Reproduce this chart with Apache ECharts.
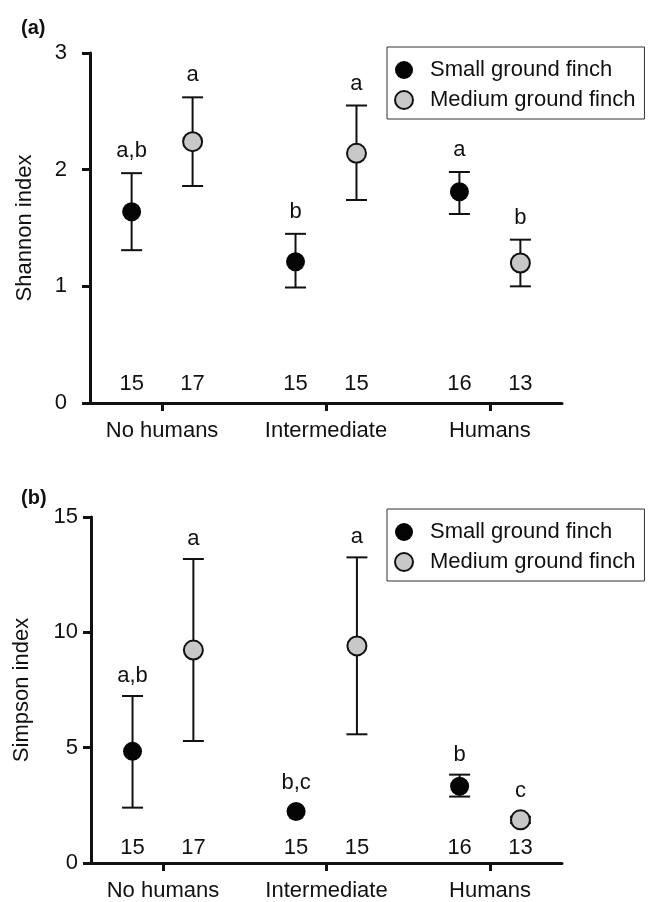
<!DOCTYPE html>
<html>
<head>
<meta charset="utf-8">
<script src="https://cdn.jsdelivr.net/npm/echarts@6/dist/echarts.min.js"></script>
<style>
  html, body { margin: 0; padding: 0; background: #fff; }
  #chart { width: 648px; height: 902px; }
</style>
</head>
<body>
<div id="chart"></div>
<script>
// groups along the x axis
const groups = ['No humans', 'Intermediate', 'Humans']
const seriesNames = ['Small ground finch', 'Medium ground finch']

// (a) Shannon index: mean, lower and upper end of error bar
const shannonSmall = [1.64, 1.21, 1.81]
const shannonSmallLow = [1.31, 0.99, 1.62]
const shannonSmallHigh = [1.97, 1.45, 1.98]
const shannonMedium = [2.24, 2.14, 1.20]
const shannonMediumLow = [1.86, 1.74, 1.00]
const shannonMediumHigh = [2.62, 2.55, 1.40]
const shannonSmallLetters = ['a,b', 'b', 'a']
const shannonMediumLetters = ['a', 'a', 'b']

// (b) Simpson index
const simpsonSmall = [4.84, 2.23, 3.33]
const simpsonSmallLow = [2.40, 2.23, 2.88]
const simpsonSmallHigh = [7.24, 2.23, 3.83]
const simpsonMedium = [9.23, 9.41, 1.87]
const simpsonMediumLow = [5.29, 5.58, 1.74]
const simpsonMediumHigh = [13.18, 13.25, 2.00]
const simpsonSmallLetters = ['a,b', 'b,c', 'b']
const simpsonMediumLetters = ['a', 'a', 'c']

// sample sizes
const sampleSmall = [15, 15, 16]
const sampleMedium = [17, 15, 13]

const FONT = 'Liberation Sans, Arial, Helvetica, sans-serif'
const DODGE = 0.186 // half distance between the two species in a group

var myChart = echarts.init(document.getElementById('chart'))

// error bars with the letter above them
function errorBars(axisIndex, means, lows, highs, letters, offset, letterGap) {
  const data = means.map((m, i) => [i + offset, m, lows[i], highs[i]])
  return {
    type: 'custom',
    xAxisIndex: axisIndex,
    yAxisIndex: axisIndex,
    z: 1,
    data: data,
    renderItem: function(params, api) {
      const x = api.value(0)
      const mid = api.coord([x, api.value(1)])
      const lo = api.coord([x, api.value(2)])
      const hi = api.coord([x, api.value(3)])
      const style = { stroke: '#111', lineWidth: 2 }
      const top = Math.min(hi[1], mid[1] - 9)
      const children = []
      if (lo[1] - hi[1] > 1) {
        children.push(
          { type: 'line', shape: { x1: lo[0], y1: lo[1], x2: hi[0], y2: hi[1] }, style: style },
          { type: 'line', shape: { x1: hi[0] - 10.5, y1: hi[1], x2: hi[0] + 10.5, y2: hi[1] }, style: style },
          { type: 'line', shape: { x1: lo[0] - 10.5, y1: lo[1], x2: lo[0] + 10.5, y2: lo[1] }, style: style }
        )
      }
      children.push({
        type: 'text',
        x: mid[0],
        y: top - letterGap,
        style: {
          text: letters[params.dataIndex],
          fill: '#111',
          font: '22px ' + FONT,
          textAlign: 'center',
          textVerticalAlign: 'bottom'
        }
      })
      return { type: 'group', children: children }
    }
  }
}

// sample size text just above the x axis
function sampleLabels(axisIndex, counts, offset, yVal) {
  return {
    type: 'custom',
    xAxisIndex: axisIndex,
    yAxisIndex: axisIndex,
    data: counts.map((n, i) => [i + offset, yVal]),
    renderItem: function(params, api) {
      const p = api.coord([api.value(0), api.value(1)])
      return {
        type: 'text',
        x: p[0],
        y: p[1],
        style: {
          text: String(counts[params.dataIndex]),
          fill: '#111',
          font: '22px ' + FONT,
          textAlign: 'center',
          textVerticalAlign: 'bottom'
        }
      }
    }
  }
}

function points(axisIndex, name, means, offset, fill) {
  return {
    name: name,
    type: 'scatter',
    xAxisIndex: axisIndex,
    yAxisIndex: axisIndex,
    z: 3,
    symbol: 'circle',
    symbolSize: 19,
    itemStyle: fill === 'small'
      ? { color: '#050505', borderColor: '#050505', borderWidth: 0, opacity: 1 }
      : { color: '#c8c8c8', borderColor: '#111', borderWidth: 2, opacity: 1 },
    data: means.map((m, i) => [i + offset, m])
  }
}

function xAxis(gridIndex) {
  return {
    gridIndex: gridIndex,
    type: 'value',
    min: -0.44,
    max: 2.44,
    axisLine: { onZero: false, lineStyle: { color: '#111', width: 3 }},
    axisTick: { show: true, customValues: [0, 1, 2], length: 8, lineStyle: { color: '#111', width: 3 }},
    axisLabel: {
      customValues: [0, 1, 2],
      formatter: v => groups[Math.round(v)],
      color: '#111',
      fontSize: 22,
      fontFamily: FONT,
      margin: 17
    },
    splitLine: { show: false }
  }
}

function yAxis(gridIndex, name, max, interval, labelMargin, nameGap) {
  return {
    gridIndex: gridIndex,
    type: 'value',
    min: 0,
    max: max,
    interval: interval,
    name: name,
    nameLocation: 'middle',
    nameGap: nameGap,
    nameTextStyle: { color: '#111', fontSize: 22, fontFamily: FONT },
    axisLine: { show: true, onZero: false, lineStyle: { color: '#111', width: 3 }},
    axisTick: { show: true, length: 8, lineStyle: { color: '#111', width: 3 }},
    axisLabel: { color: '#111', fontSize: 22, fontFamily: FONT, margin: labelMargin },
    splitLine: { show: false }
  }
}

function legend(top) {
  return {
    data: seriesNames,
    orient: 'vertical',
    left: 387,
    top: top,
    padding: [12, 9, 8, 7],
    itemGap: 8,
    itemWidth: 18,
    itemHeight: 18,
    icon: 'circle',
    borderColor: '#333',
    borderWidth: 1,
    textStyle: { color: '#111', fontSize: 22, fontFamily: FONT, padding: [0, 0, 0, 12] }
  }
}

const option = {
  animation: false,
  backgroundColor: '#fff',
  title: [
    { text: '(a)', left: 16, top: 13, textStyle: { fontSize: 20, fontWeight: 'bold', fontFamily: FONT, color: '#111' }},
    { text: '(b)', left: 16, top: 483, textStyle: { fontSize: 20, fontWeight: 'bold', fontFamily: FONT, color: '#111' }}
  ],
  legend: [legend(47), legend(509)],
  grid: [
    { left: 90, top: 53, width: 472, height: 350 },
    { left: 91, top: 517, width: 471, height: 349 }
  ],
  xAxis: [xAxis(0), xAxis(1)],
  yAxis: [
    yAxis(0, 'Shannon index', 3, 1, 23, 54),
    yAxis(1, 'Simpson index', 15, 5, 13, 58)
  ],
  series: [
    errorBars(0, shannonSmall, shannonSmallLow, shannonSmallHigh, shannonSmallLetters, -DODGE, 11),
    errorBars(0, shannonMedium, shannonMediumLow, shannonMediumHigh, shannonMediumLetters, DODGE, 11),
    points(0, seriesNames[0], shannonSmall, -DODGE, 'small'),
    points(0, seriesNames[1], shannonMedium, DODGE, 'medium'),
    sampleLabels(0, sampleSmall, -DODGE, 0.067),
    sampleLabels(0, sampleMedium, DODGE, 0.067),

    errorBars(1, simpsonSmall, simpsonSmallLow, simpsonSmallHigh, simpsonSmallLetters, -DODGE, 9),
    errorBars(1, simpsonMedium, simpsonMediumLow, simpsonMediumHigh, simpsonMediumLetters, DODGE, 9),
    points(1, seriesNames[0], simpsonSmall, -DODGE, 'small'),
    points(1, seriesNames[1], simpsonMedium, DODGE, 'medium'),
    sampleLabels(1, sampleSmall, -DODGE, 0.155),
    sampleLabels(1, sampleMedium, DODGE, 0.155)
  ]
}

myChart.setOption(option)
window.addEventListener('resize', function() {
  myChart.resize()
})
</script>
</body>
</html>
